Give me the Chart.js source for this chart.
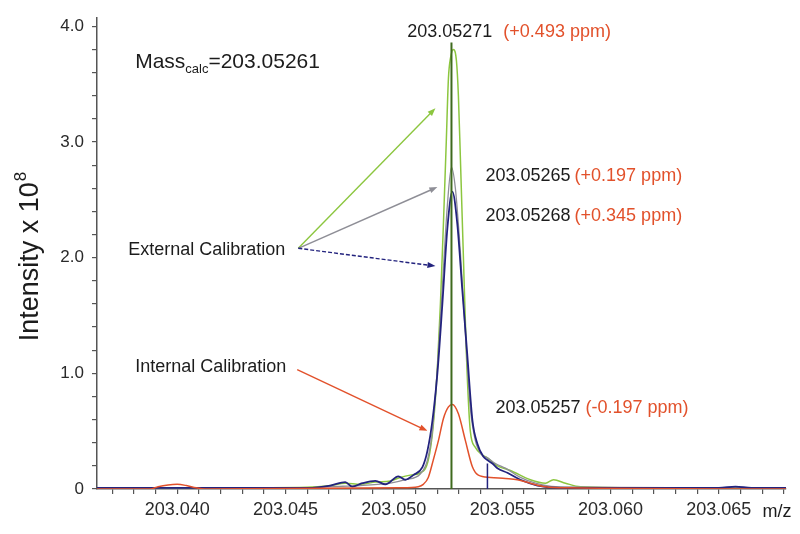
<!DOCTYPE html>
<html>
<head>
<meta charset="utf-8">
<script src="https://cdn.jsdelivr.net/npm/chart.js@4/dist/chart.umd.min.js"></script>
<style>
  html, body { margin: 0; padding: 0; background: #fff; }
  canvas { display: block; }
</style>
</head>
<body>
<canvas id="spectrum" width="800" height="534"></canvas>
<script>
// m/z and intensity (x 10^8)
const greenMz = [203.0363, 203.0420, 203.0460, 203.04707, 203.04776, 203.04845, 203.04915, 203.04984, 203.05030, 203.05076,
  203.05122, 203.05159, 203.05182, 203.05201, 203.05215, 203.05229, 203.05242, 203.05252, 203.05261, 203.05275,
  203.05289, 203.05298, 203.05307, 203.05321, 203.05335, 203.05353, 203.05376, 203.05404, 203.05432, 203.05478,
  203.05538, 203.05630, 203.05700, 203.05737, 203.05792, 203.05861, 203.0620, 203.0681];
const greenInt = [0.01, 0.01, 0.015, 0.03, 0.05, 0.04, 0.06, 0.07, 0.10, 0.12,
  0.14, 0.25, 0.55, 1.05, 1.60, 2.30, 3.00, 3.55, 3.72, 3.80,
  3.70, 3.40, 2.87, 2.01, 1.16, 0.50, 0.36, 0.30, 0.27, 0.20,
  0.16, 0.08, 0.05, 0.08, 0.05, 0.02, 0.01, 0.01];

const grayMz = [203.0363, 203.0460, 203.04707, 203.04845, 203.04984, 203.05053, 203.05122, 203.05155, 203.05178, 203.05201,
  203.05224, 203.05247, 203.05266, 203.05284, 203.05307, 203.05330, 203.05353, 203.05376, 203.05404, 203.05432,
  203.05469, 203.05515, 203.05584, 203.05654, 203.05746, 203.0681];
const grayInt = [0.01, 0.01, 0.02, 0.03, 0.05, 0.08, 0.13, 0.25, 0.50, 1.05,
  1.75, 2.45, 2.78, 2.60, 2.05, 1.35, 0.70, 0.42, 0.30, 0.27,
  0.22, 0.18, 0.10, 0.05, 0.02, 0.01];

const navyMz = [203.0363, 203.0420, 203.0460, 203.04707, 203.04776, 203.04808, 203.04855, 203.04915, 203.04961, 203.05021,
  203.05053, 203.05090, 203.05132, 203.05155, 203.05178, 203.05201, 203.05224, 203.05247, 203.05270, 203.05293,
  203.05316, 203.05339, 203.05363, 203.05386, 203.05413, 203.05432, 203.05455, 203.05478, 203.05524, 203.05584,
  203.05663, 203.05769, 203.0650, 203.06577, 203.0665, 203.0681];
const navyInt = [0.01, 0.01, 0.01, 0.03, 0.06, 0.02, 0.05, 0.07, 0.04, 0.11,
  0.08, 0.12, 0.19, 0.33, 0.59, 1.00, 1.60, 2.25, 2.57, 2.29,
  1.72, 1.16, 0.59, 0.39, 0.28, 0.25, 0.22, 0.18, 0.14, 0.08,
  0.03, 0.01, 0.01, 0.02, 0.01, 0.01];

const redMz = [203.0363, 203.03875, 203.03912, 203.03958, 203.04000, 203.04042, 203.04088, 203.04129, 203.05030, 203.05113,
  203.05136, 203.05159, 203.05182, 203.05206, 203.05229, 203.05252, 203.05270, 203.05298, 203.05330, 203.05363,
  203.05390, 203.05446, 203.05515, 203.05570, 203.05630, 203.05700, 203.05801, 203.0681];
const redInt = [0.0, 0.0, 0.02, 0.035, 0.04, 0.03, 0.01, 0.0, 0.01, 0.02,
  0.04, 0.10, 0.25, 0.42, 0.61, 0.71, 0.73, 0.65, 0.42, 0.19,
  0.12, 0.10, 0.09, 0.08, 0.05, 0.02, 0.01, 0.0];

// centroid sticks
const stickMz = [203.05266, 203.05432];
const stickInt = [3.86, 0.22];

const xMajor = [203.040, 203.045, 203.050, 203.055, 203.060, 203.065];
const yMajor = [0, 1.0, 2.0, 3.0, 4.0];

const C = {
  green: '#8cc63f',
  gray: '#8e8e96',
  navy: '#23237e',
  red: '#e2512b',
  stick: '#3f6a1e',
  ink: '#1c1c1c',
  axis: '#555'
};
const FONT = '"Liberation Sans", Arial, sans-serif';

const toPts = (xs, ys) => xs.map((x, i) => ({ x: x, y: ys[i] }));

const peakLabels = [
  { mass: '203.05271', ppm: '(+0.493 ppm)', x: 203.05062, y: 3.906, gap: 11 },
  { mass: '203.05265', ppm: '(+0.197 ppm)', x: 203.05423, y: 2.661, gap: 4 },
  { mass: '203.05268', ppm: '(+0.345 ppm)', x: 203.05423, y: 2.320, gap: 4 },
  { mass: '203.05257', ppm: '(-0.197 ppm)', x: 203.05469, y: 0.657, gap: 5 }
];
const calLabels = [
  { text: 'External Calibration', x: 203.03774, y: 2.021 },
  { text: 'Internal Calibration', x: 203.03806, y: 1.015 }
];
const arrows = [
  { from: [203.04559, 2.081], to: [203.05192, 3.292], color: C.green },
  { from: [203.04559, 2.081], to: [203.05201, 2.610], color: C.gray },
  { from: [203.04559, 2.081], to: [203.05192, 1.927], color: C.navy, dash: [4, 2] },
  { from: [203.04554, 1.032], to: [203.05155, 0.503], color: C.red }
];

const notes = {
  id: 'notes',
  afterDraw(chart) {
    const ctx = chart.ctx;
    const xs = chart.scales.x, ys = chart.scales.y;
    const px = v => xs.getPixelForValue(v);
    const py = v => ys.getPixelForValue(v);
    ctx.save();
    ctx.textBaseline = 'alphabetic';

    // arrows
    arrows.forEach(a => {
      const x1 = px(a.from[0]), y1 = py(a.from[1]);
      const x2 = px(a.to[0]), y2 = py(a.to[1]);
      const ang = Math.atan2(y2 - y1, x2 - x1);
      ctx.strokeStyle = a.color;
      ctx.fillStyle = a.color;
      ctx.lineWidth = 1.4;
      ctx.setLineDash(a.dash || []);
      ctx.beginPath();
      ctx.moveTo(x1, y1);
      ctx.lineTo(x2 - 6 * Math.cos(ang), y2 - 6 * Math.sin(ang));
      ctx.stroke();
      ctx.setLineDash([]);
      ctx.beginPath();
      ctx.moveTo(x2, y2);
      ctx.lineTo(x2 - 8 * Math.cos(ang) + 3 * Math.sin(ang), y2 - 8 * Math.sin(ang) - 3 * Math.cos(ang));
      ctx.lineTo(x2 - 8 * Math.cos(ang) - 3 * Math.sin(ang), y2 - 8 * Math.sin(ang) + 3 * Math.cos(ang));
      ctx.closePath();
      ctx.fill();
    });

    // Mass calc
    let x = px(203.03806), y = py(3.642);
    ctx.fillStyle = C.ink;
    ctx.font = '21px ' + FONT;
    ctx.fillText('Mass', x, y);
    x += ctx.measureText('Mass').width;
    ctx.font = '13px ' + FONT;
    ctx.fillText('calc', x, y + 5);
    x += ctx.measureText('calc').width;
    ctx.font = '21px ' + FONT;
    ctx.fillText('=203.05261', x, y);

    // peak labels
    ctx.font = '18px ' + FONT;
    peakLabels.forEach(l => {
      const lx = px(l.x), ly = py(l.y);
      ctx.fillStyle = C.ink;
      ctx.fillText(l.mass, lx, ly);
      ctx.fillStyle = C.red;
      ctx.fillText(l.ppm, lx + ctx.measureText(l.mass).width + l.gap, ly);
    });

    ctx.fillStyle = C.ink;
    calLabels.forEach(l => ctx.fillText(l.text, px(l.x), py(l.y)));

    // axis unit
    ctx.fillText('m/z', px(203.06702), 517);

    // y title
    ctx.translate(31, 257);
    ctx.rotate(-Math.PI / 2);
    ctx.font = '27px ' + FONT;
    const main = 'Intensity x 10';
    const w1 = ctx.measureText(main).width;
    ctx.font = '17px ' + FONT;
    const w2 = ctx.measureText('8').width;
    const sx = -(w1 + w2) / 2;
    ctx.font = '27px ' + FONT;
    ctx.textBaseline = 'middle';
    ctx.fillText(main, sx, 0);
    ctx.font = '17px ' + FONT;
    ctx.fillText('8', sx + w1 + 1, -10);
    ctx.restore();
  }
};

const lineSet = (mz, val, color, width, order) => ({
  data: toPts(mz, val),
  borderColor: color,
  borderWidth: width,
  pointRadius: 0,
  fill: false,
  cubicInterpolationMode: 'monotone',
  order: order
});

const datasets = [
  lineSet(greenMz, greenInt, C.green, 1.5, 6),
  lineSet(grayMz, grayInt, C.gray, 1.3, 5),
  lineSet(navyMz, navyInt, C.navy, 1.8, 4),
  lineSet(redMz, redInt, C.red, 1.5, 3),
  { data: [{ x: stickMz[0], y: 0 }, { x: stickMz[0], y: stickInt[0] }], borderColor: C.stick, borderWidth: 2, pointRadius: 0, order: 1 },
  { data: [{ x: stickMz[1], y: 0 }, { x: stickMz[1], y: stickInt[1] }], borderColor: C.navy, borderWidth: 1.5, pointRadius: 0, order: 2 }
];

new Chart(document.getElementById('spectrum'), {
  type: 'line',
  data: { datasets: datasets },
  plugins: [notes],
  options: {
    responsive: false,
    animation: false,
    devicePixelRatio: 1,
    layout: { padding: { top: 12, right: 14, left: 0, bottom: 0 } },
    plugins: { legend: { display: false }, tooltip: { enabled: false } },
    scales: {
      x: {
        type: 'linear',
        min: 203.0363,
        max: 203.0681,
        afterBuildTicks: s => {
          const t = [];
          for (let k = 37; k <= 68; k++) t.push({ value: 203 + k / 1000 });
          s.ticks = t;
        },
        afterFit: s => { s.height = 45; },
        grid: { drawOnChartArea: false, drawTicks: true, tickLength: 5, color: C.axis, lineWidth: 1.2 },
        border: { display: true, color: C.axis, width: 1.5 },
        ticks: {
          autoSkip: false,
          maxRotation: 0,
          padding: 5,
          color: '#2a2a2a',
          font: { family: FONT, size: 18 },
          callback: v => {
            const m = xMajor.find(t => Math.abs(t - v) < 1e-7);
            return m !== undefined ? m.toFixed(3) : '';
          }
        }
      },
      y: {
        min: 0,
        max: 4.07,
        afterBuildTicks: s => {
          const t = [];
          for (let k = 0; k <= 20; k++) t.push({ value: k / 5 });
          s.ticks = t;
        },
        afterFit: s => { s.width = 97; },
        grid: { drawOnChartArea: false, drawTicks: true, tickLength: 5, color: C.axis, lineWidth: 1.2 },
        border: { display: true, color: C.axis, width: 1.5 },
        ticks: {
          autoSkip: false,
          padding: 8,
          color: '#2a2a2a',
          font: { family: FONT, size: 17 },
          callback: v => {
            const m = yMajor.find(t => Math.abs(t - v) < 1e-7);
            if (m === undefined) return '';
            return m === 0 ? '0' : m.toFixed(1);
          }
        }
      }
    }
  }
});
</script>
</body>
</html>
